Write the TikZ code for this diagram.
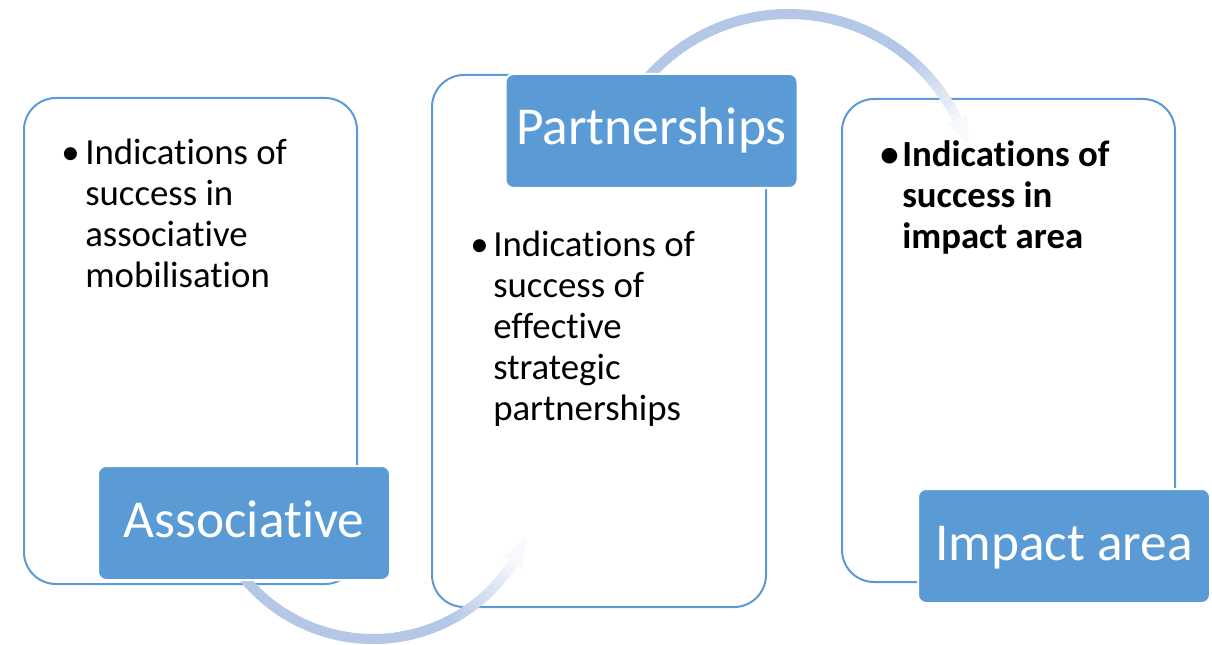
\documentclass[tikz,border=0pt]{standalone}
\usepackage{fontspec}
\setmainfont[Ligatures={NoCommon}]{Carlito}
\usetikzlibrary{calc}
\newcommand{\nolig}{\kern0pt }
\definecolor{accent}{HTML}{5B9BD5}
\definecolor{arcblue}{HTML}{B4C7E7}
\begin{document}
\begin{tikzpicture}[x=0.75pt,y=-0.75pt,
  box/.style={draw=accent, line width=1.5pt, fill=white, rounded corners=24pt, inner sep=0pt},
  label/.style={draw=white, line width=1.5pt, fill=accent, rounded corners=6pt, inner sep=0pt,
     text=white, font=\fontsize{40}{48}\selectfont, minimum width=292*0.75pt, minimum height=114*0.75pt,
     text height=21pt, text depth=0pt},
  bodytext/.style={inner sep=0pt, font=\fontsize{27.6}{30.75}\selectfont, anchor=base west},
  boldtext/.style={bodytext, font=\fontsize{27.6}{30.75}\selectfont\bfseries},
  flow/.style={line width=7.5pt, line cap=butt}
]
\useasboundingbox (0,0) rectangle (1212,645);
% boxes
\node[box, minimum width=333*0.75pt, minimum height=486*0.75pt] (box1) at (190.5,341) {};
\node[box, minimum width=334*0.75pt, minimum height=532*0.75pt] (box2) at (599,341) {};
\node[box, minimum width=333*0.75pt, minimum height=483*0.75pt] (box3) at (1008.5,340.5) {};
% texts
\node[bodytext] (b1) at (61,165) {•};
\node[bodytext] (t1) at (85,165) {\parbox[t]{260pt}{\raggedright Indicat\nolig ions of\\success in\\associat\nolig ive\\mobilisat\nolig ion}};
\node[bodytext] (b2) at (470,256) {•};
\node[bodytext] (t2) at (493,256) {\parbox[t]{260pt}{\raggedright Indicat\nolig ions of\\success of\\effect\nolig ive\\strategic\\partnerships}};
\node[boldtext] (b3) at (880,167) {•};
\node[boldtext] (t3) at (902,167) {\parbox[t]{260pt}{\raggedright Indicat\nolig ions of\\success in\\impact area}};
% flow arrow 1 (centre 373,472 r 167)
\coordinate (c1) at (373,472);
\foreach \i in {0,...,59}{
  \pgfmathsetmacro{\ta}{218+\i*(327-218)/60}
  \pgfmathsetmacro{\tb}{218+(\i+1)*(327-218)/60+0.6}
  \pgfmathsetmacro{\fr}{\i/60}
  \pgfmathsetmacro{\p}{\fr<0.72 ? 100 : 100-88*(\fr-0.72)/0.28}
  \draw[flow, draw=arcblue!\p!white] ($(c1)+({167*cos(\ta)},{-167*sin(\ta)})$) arc[start angle=\ta, end angle=\tb, radius=167*0.75pt];
}
\fill[arcblue!10!white] ($(c1)+({178*cos(327)},{-178*sin(327)})$) -- ($(c1)+({167*cos(337)},{-167*sin(337)})$) -- ($(c1)+({156*cos(327)},{-156*sin(327)})$) -- cycle;
% flow arrow 2 (centre 788.6,201.5 r 187.5)
\coordinate (c2) at (788.6,201.5);
\foreach \i in {0,...,59}{
  \pgfmathsetmacro{\ta}{142-\i*(142-26)/60}
  \pgfmathsetmacro{\tb}{142-(\i+1)*(142-26)/60-0.6}
  \pgfmathsetmacro{\fr}{\i/60}
  \pgfmathsetmacro{\p}{\fr<0.78 ? 100 : 100-88*(\fr-0.78)/0.22}
  \draw[flow, draw=arcblue!\p!white] ($(c2)+({187.5*cos(\ta)},{-187.5*sin(\ta)})$) arc[start angle=\ta, end angle=\tb, radius=187.5*0.75pt];
}
\fill[arcblue!10!white] ($(c2)+({198.5*cos(26)},{-198.5*sin(26)})$) -- ($(c2)+({189*cos(18)},{-189*sin(18)})$) -- ($(c2)+({176.5*cos(26)},{-176.5*sin(26)})$) -- cycle;
% labels
\node[label] (l1) at (244,523) {Associat\nolig ive};
\node[label] (l2) at (651.5,131) {Partnerships};
\node[label] (l3) at (1064,546) {Impact area};
\end{tikzpicture}
\end{document}
